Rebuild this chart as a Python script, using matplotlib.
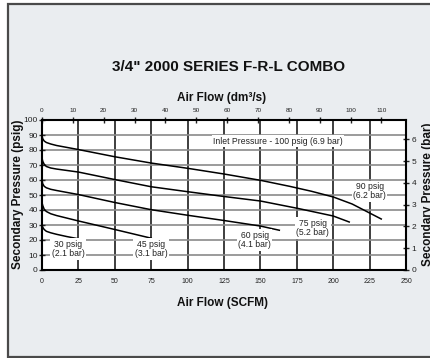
import matplotlib
matplotlib.use("Agg")
import matplotlib.pyplot as plt
from matplotlib.patches import Rectangle

plt.rcParams['font.family'] = ['Liberation Sans', 'DejaVu Sans']

SCFM_TO_DM3S = 0.4719
PSI_PER_BAR = 14.5038

# Air flow (SCFM) vs secondary pressure (psig), one curve per regulator setting
flow_90 = [0, 0.5, 1.5, 3, 6, 10, 25, 50, 75, 100, 125, 150, 170, 185, 200, 213, 225, 233]
psig_90 = [89.5, 87.5, 86, 85, 84, 83, 80.3, 75.5, 71.3, 67.8, 64, 59.8, 55.8, 52.5, 48.7, 44, 38, 34]

flow_75 = [0, 0.5, 1.5, 3, 6, 10, 25, 50, 75, 100, 125, 150, 175, 200, 211]
psig_75 = [74.7, 72.5, 70.5, 69, 68, 67.3, 65.3, 60.3, 55.5, 52.2, 49, 46, 41.2, 36, 32]

flow_60 = [0, 0.5, 1.5, 3, 6, 10, 25, 50, 75, 100, 125, 150, 163]
psig_60 = [60, 57.5, 55.8, 54.8, 53.8, 53, 50.3, 45, 40.2, 36.5, 33, 29.3, 26.5]

flow_45 = [0, 0.5, 1.5, 3, 6, 10, 25, 50, 75]
psig_45 = [45, 43, 40.5, 39, 37.5, 36.3, 32.7, 27, 21.2]

flow_30 = [0, 0.5, 1.5, 3, 6, 10, 17, 24]
psig_30 = [30.5, 28.5, 27, 25.8, 24.8, 23.8, 22.3, 21]

curve_flows = [flow_90, flow_75, flow_60, flow_45, flow_30]
curve_psigs = [psig_90, psig_75, psig_60, psig_45, psig_30]

# setting labels and where they sit (SCFM, psig)
set_labels = ["90 psig\n(6.2 bar)", "75 psig\n(5.2 bar)", "60 psig\n(4.1 bar)",
              "45 psig\n(3.1 bar)", "30 psig\n(2.1 bar)"]
label_x = [225, 186, 146, 75, 18]
label_y = [52.5, 28, 20, 14, 14]

inlet_label = "Inlet Pressure - 100 psig (6.9 bar)"
inlet_x, inlet_y = 162, 86

scfm_ticks = list(range(0, 251, 25))
psig_ticks = list(range(0, 101, 10))
dm3_ticks = list(range(0, 111, 10))
bar_ticks = list(range(0, 7))

W, H = 431, 358
fig = plt.figure(figsize=(W / 100, H / 100), dpi=100)
fig.patch.set_facecolor('white')

# panel background with frame
panel = Rectangle((8 / W, 1 - 357 / H), 430 / W, 353 / H, transform=fig.transFigure,
                  facecolor='#eaedf0', edgecolor='#4a4a4a', linewidth=1.6, zorder=-10)
fig.add_artist(panel)

ax = fig.add_axes([42 / W, 1 - 270 / H, 364 / W, 150 / H])
ax.set_zorder(1)
ax.set_facecolor('white')
ax.set_xlim(0, 250)
ax.set_ylim(0, 100)

# grid
for x in scfm_ticks[1:-1]:
    ax.axvline(x, color='#1e1e1e', lw=1.2, zorder=1)
for y in psig_ticks[1:-1]:
    ax.axhline(y, color='#8a8a8a', lw=1.2, zorder=1)

for fx, py in zip(curve_flows, curve_psigs):
    ax.plot(fx, py, color='black', lw=1.1, zorder=3)

box = dict(facecolor='white', edgecolor='none', pad=1.0)
for t, x, y in zip(set_labels, label_x, label_y):
    ax.text(x, y, t, ha='center', va='center', fontsize=6.2, color='#222222',
            linespacing=1.05, bbox=box, zorder=4)
ax.text(inlet_x, inlet_y, inlet_label, ha='center', va='center', fontsize=6.2,
        color='#222222', bbox=box, zorder=4)

for s in ax.spines.values():
    s.set_linewidth(1.5)
    s.set_color('black')
    s.set_zorder(5)

ax.set_xticks(scfm_ticks)
ax.set_yticks(psig_ticks)
ax.tick_params(axis='x', length=0, labelsize=5, pad=5.5, colors='#222222')
ax.tick_params(axis='y', direction='inout', length=4, width=1, labelsize=6, pad=1, colors='#222222')

top = ax.secondary_xaxis('top', functions=(lambda q: q * SCFM_TO_DM3S, lambda d: d / SCFM_TO_DM3S))
top.set_xticks(dm3_ticks)
top.tick_params(direction='inout', length=4, width=1, labelsize=4.6, pad=3, colors='#222222')
top.spines['top'].set_visible(False)

right = ax.secondary_yaxis('right', functions=(lambda p: p / PSI_PER_BAR, lambda b: b * PSI_PER_BAR))
right.set_yticks(bar_ticks)
right.tick_params(direction='inout', length=4, width=1, labelsize=6, pad=2, colors='#222222')
right.spines['right'].set_visible(False)

fig.text(229 / W, 1 - 67 / H, '3/4" 2000 SERIES F-R-L COMBO', ha='center', va='center',
         fontsize=11, fontweight='bold', color='#111111')
fig.text(222 / W, 1 - 98 / H, 'Air Flow (dm³/s)', ha='center', va='center',
         fontsize=8.5, fontweight='bold', color='#111111')
fig.text(223 / W, 1 - 303 / H, 'Air Flow (SCFM)', ha='center', va='center',
         fontsize=8.5, fontweight='bold', color='#111111')
fig.text(18.5 / W, 1 - 194 / H, 'Secondary Pressure (psig)', ha='center', va='center',
         rotation=90, fontsize=8.5, fontweight='bold', color='#111111')
fig.text(428 / W, 1 - 194 / H, 'Secondary Pressure (bar)', ha='center', va='center',
         rotation=90, fontsize=8.5, fontweight='bold', color='#111111')

fig.savefig('out.png', dpi=100)
